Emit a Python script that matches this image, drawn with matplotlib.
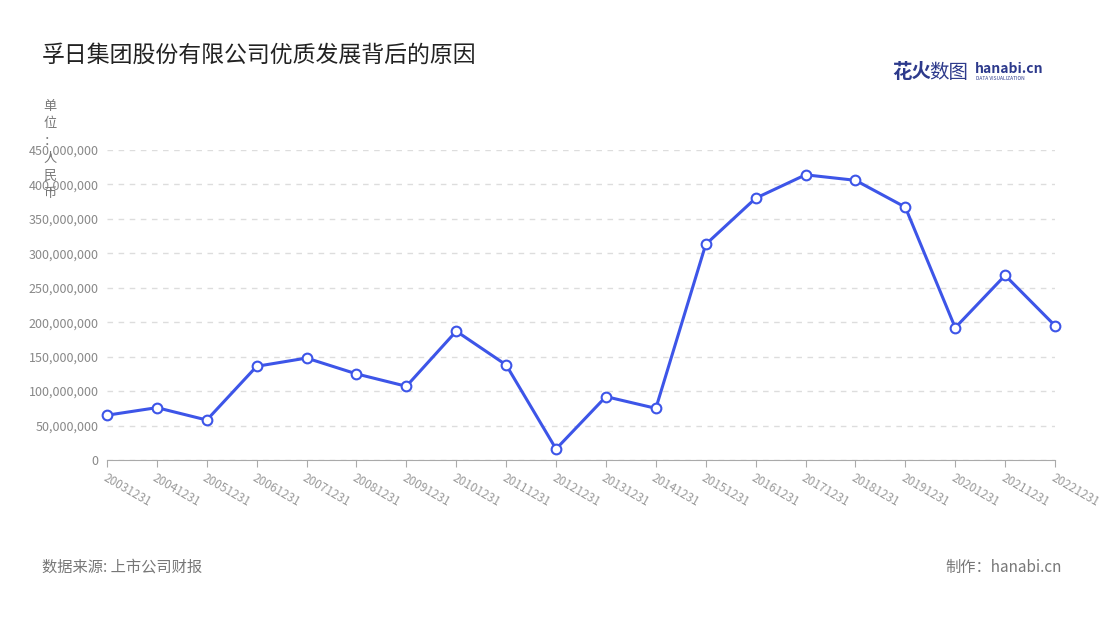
import matplotlib
matplotlib.use("Agg")
import matplotlib.pyplot as plt
from matplotlib.ticker import FuncFormatter

plt.rcParams['font.family'] = ['Noto Sans CJK SC', 'DejaVu Sans']

years = ["20031231","20041231","20051231","20061231","20071231","20081231","20091231",
         "20101231","20111231","20121231","20131231","20141231","20151231","20161231",
         "20171231","20181231","20191231","20201231","20211231","20221231"]
values = [65e6, 76e6, 58e6, 136e6, 148e6, 125e6, 107e6, 187e6, 138e6, 16e6,
          92e6, 75e6, 313e6, 380e6, 414e6, 406e6, 367e6, 192e6, 268e6, 195e6]
yticks = [0, 50e6, 100e6, 150e6, 200e6, 250e6, 300e6, 350e6, 400e6, 450e6]

W, H = 1100, 620
fig = plt.figure(figsize=(W/100, H/100), dpi=100)
ax = fig.add_axes([107/W, 1-460/H, (1055-107)/W, (460-150)/H])
x = list(range(len(years)))
ax.plot(x, values, color='#3d55e8', lw=2.2, marker='o', ms=7,
        mfc='white', mec='#3d55e8', mew=1.5, zorder=3, clip_on=False)
ax.set_xlim(0, len(years)-1)
ax.set_ylim(0, 450e6)
ax.set_yticks(yticks)
ax.yaxis.set_major_formatter(FuncFormatter(lambda v, p: f"{int(v):,}"))
ax.set_xticks(x)
ax.set_xticklabels(years, rotation=-30, ha='left', rotation_mode='anchor')
ax.tick_params(axis='y', length=0, labelsize=9, colors='#888888', pad=6)
ax.tick_params(axis='x', length=5, color='#aaaaaa', labelsize=8.5, labelcolor='#999999')
ax.grid(axis='y', ls=(0, (4, 4)), color='#dddddd', lw=1)
for s in ['top', 'right', 'left']:
    ax.spines[s].set_visible(False)
ax.spines['bottom'].set_color('#aaaaaa')

fig.text(42/W, 1-55/H, "孚日集团股份有限公司优质发展背后的原因", fontsize=16.5, color='#222222', va='center')
fig.text(50/W, 1-150/H, "单\n位\n：\n人\n民\n币", fontsize=9.5, color='#777777',
         va='center', ha='center', linespacing=1.45)
fig.text(42/W, 1-567/H, "数据来源: 上市公司财报", fontsize=11, color='#777777', va='center')
fig.text(1062/W, 1-567/H, "制作：hanabi.cn", fontsize=11, color='#777777', va='center', ha='right')
fig.text(892/W, 1-72/H, "花火", fontsize=14, color='#2d3a8c', weight='bold', va='center')
fig.text(929/W, 1-72/H, "数图", fontsize=14, color='#2d3a8c', va='center')
fig.text(975/W, 1-69/H, "hanabi.cn", fontsize=10, color='#2d3a8c', weight='bold', va='center')
fig.text(976/W, 1-79/H, "DATA VISUALIZATION", fontsize=3.5, color='#2d3a8c', va='center')
fig.savefig("out.png", dpi=100)
